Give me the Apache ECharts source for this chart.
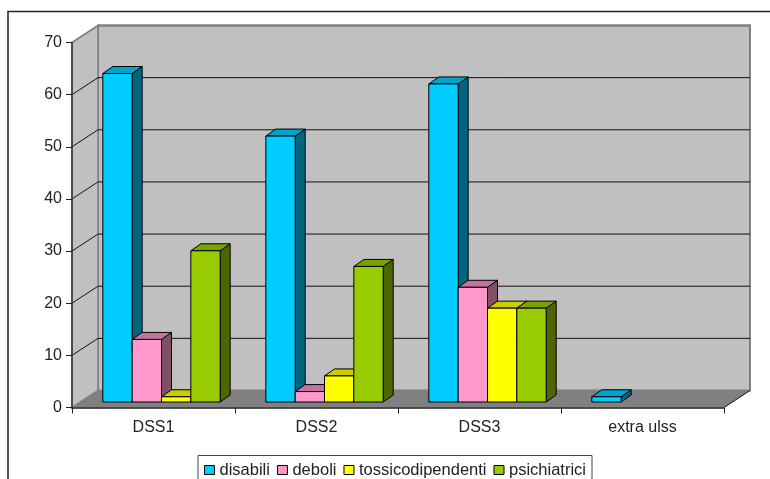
<!DOCTYPE html>
<html><head><meta charset="utf-8">
<style>html,body{margin:0;padding:0;background:#fff}#c{width:770px;height:479px}</style>
<script src="https://cdn.jsdelivr.net/npm/echarts@6/dist/echarts.min.js"></script>
</head><body><div id="c"></div>
<script>
const categories = ['DSS1', 'DSS2', 'DSS3', 'extra ulss'];
const disabili = [63, 51, 61, 1];
const deboli = [12, 2, 22, 0];
const tossicodipendenti = [1, 5, 18, 0];
const psichiatrici = [29, 26, 18, 0];
const yTicks = [0, 10, 20, 30, 40, 50, 60, 70];
const seriesNames = ['disabili', 'deboli', 'tossicodipendenti', 'psichiatrici'];
const seriesValues = [disabili, deboli, tossicodipendenti, psichiatrici];
const fronts = ['#00CCFF', '#FF99CC', '#FFFF00', '#99CC00'];
const sides = ['#006680', '#805066', '#808000', '#4D6600'];
const tops = ['#00A3CC', '#C4739C', '#CCCC00', '#7AA300'];

const WALL_DX = 26, WALL_DY = -17, BAR_DX = 8, BAR_DY = -5.5, SIDE_DX = 10, SIDE_DY = -7, BAR_FRAC = 0.18;
const FONT = 'Liberation Sans';
const TXT = '#222';

function wallItem(params, api) {
  const c = params.coordSys;
  const L = c.x, R = c.x + c.width, T = c.y, B = c.y + c.height;
  return { type: 'group', children: [
    { type: 'polygon', shape: { points: [[L + WALL_DX, T + WALL_DY], [R + WALL_DX, T + WALL_DY], [R + WALL_DX, B + WALL_DY], [L + WALL_DX, B + WALL_DY]] },
      style: { fill: '#C0C0C0', stroke: '#808080', lineWidth: 2 } },
    { type: 'polygon', shape: { points: [[L, T], [L + WALL_DX, T + WALL_DY], [L + WALL_DX, B + WALL_DY], [L, B]] },
      style: { fill: '#C0C0C0', stroke: '#808080', lineWidth: 1.5 } },
    { type: 'polygon', shape: { points: [[L, B], [L + WALL_DX, B + WALL_DY], [R + WALL_DX, B + WALL_DY], [R, B]] },
      style: { fill: '#808080' } },
    { type: 'line', shape: { x1: R, y1: B, x2: R + WALL_DX, y2: B + WALL_DY }, style: { stroke: '#111', lineWidth: 1 } }
  ] };
}
function gridItem(params, api) {
  const c = params.coordSys;
  const v = api.value(0);
  if (v === 0) return;
  const y = api.coord([0, v])[1];
  const ln = y + WALL_DY;
  const color = v === 70 ? '#808080' : '#111';
  return { type: 'group', children: [
    { type: 'line', shape: { x1: c.x, y1: y, x2: c.x + WALL_DX, y2: ln }, style: { stroke: color, lineWidth: 1 } },
    { type: 'line', shape: { x1: c.x + WALL_DX, y1: ln, x2: c.x + c.width + WALL_DX, y2: ln }, style: { stroke: color, lineWidth: v === 70 ? 2 : 1 } }
  ] };
}
function barRender(si) {
  return function (params, api) {
    const v = api.value(1);
    if (!v) return;
    const band = api.size([1, 0])[0];
    const w = band * BAR_FRAC;
    const cx = api.coord([api.value(0), 0])[0];
    const x0 = cx - 2 * w + si * w + BAR_DX, x1 = x0 + w;
    const y0 = api.coord([0, 0])[1] + BAR_DY, y1 = api.coord([0, v])[1] + BAR_DY;
    const edge = { stroke: '#000', lineWidth: 1, lineJoin: 'round' };
    return { type: 'group', children: [
      { type: 'polygon', shape: { points: [[x1, y0], [x1 + SIDE_DX, y0 + SIDE_DY], [x1 + SIDE_DX, y1 + SIDE_DY], [x1, y1]] }, style: { fill: sides[si], ...edge } },
      { type: 'polygon', shape: { points: [[x0, y1], [x0 + SIDE_DX, y1 + SIDE_DY], [x1 + SIDE_DX, y1 + SIDE_DY], [x1, y1]] }, style: { fill: tops[si], ...edge } },
      { type: 'rect', shape: { x: x0, y: y1, width: w, height: y0 - y1 }, style: { fill: fronts[si], ...edge } }
    ] };
  };
}
const chart = echarts.init(document.getElementById('c'), null, { renderer: 'canvas' });
chart.setOption({
  animation: false,
  backgroundColor: '#fff',
  textStyle: { fontFamily: FONT },
  graphic: [{ type: 'rect', z: -1, shape: { x: 8, y: 11.5, width: 800, height: 500 }, style: { fill: 'none', stroke: '#222', lineWidth: 1.5 } }],
  grid: { left: 72, top: 42.5, width: 652, height: 365 },
  legend: {
    left: 198, top: 455.5, orient: 'horizontal', z: 10,
    data: seriesNames, icon: 'rect', itemWidth: 10, itemHeight: 9, itemGap: 7, selectedMode: false,
    padding: [6, 6, 20, 6], borderColor: '#444', borderWidth: 1, backgroundColor: '#fff',
    itemStyle: { borderColor: '#000', borderWidth: 1 },
    textStyle: { fontFamily: FONT, fontSize: 16.5, color: TXT }
  },
  xAxis: { type: 'category', data: categories, z: 1,
    axisLine: { lineStyle: { color: '#222', width: 1.5 } },
    axisTick: { show: true, length: 6, lineStyle: { color: '#222', width: 1 } },
    axisLabel: { color: TXT, fontFamily: FONT, fontSize: 16, margin: 12 },
    splitLine: { show: false } },
  yAxis: { type: 'value', min: 0, max: 70, interval: 10, z: 1,
    axisLine: { show: true, lineStyle: { color: '#333', width: 1.5 } },
    axisTick: { show: true, length: 6, lineStyle: { color: '#222', width: 1 } },
    axisLabel: { color: TXT, fontFamily: FONT, fontSize: 16, margin: 10 },
    splitLine: { show: false } },
  series: [
    { type: 'custom', name: 'walls', silent: true, z: 0, data: [[0, 0]], renderItem: wallItem, clip: false },
    { type: 'custom', name: 'gridlines', silent: true, z: 0.5, data: yTicks.map(t => [t]), renderItem: gridItem, clip: false, encode: { y: 0 } },
    ...seriesNames.map((n, si) => ({
      type: 'custom', name: n, z: 3 + si, clip: false,
      itemStyle: { color: fronts[si] },
      data: seriesValues[si].map((v, i) => [i, v]),
      encode: { x: 0, y: 1 },
      renderItem: barRender(si)
    }))
  ]
});
</script></body></html>
